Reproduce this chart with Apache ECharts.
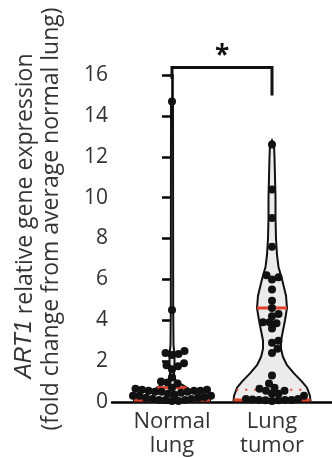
<!DOCTYPE html>
<html>
<head>
<meta charset="utf-8">
<script src="https://cdn.jsdelivr.net/npm/echarts@6/dist/echarts.min.js"></script>
<style>
html, body { margin: 0; padding: 0; background: #fff; }
#main { width: 332px; height: 458px; }
</style>
</head>
<body>
<div id="main"></div>
<script>
// categories + values
var categories = ['Normal\nlung', 'Lung\ntumor'];
var yMin = 0, yMax = 16, yStep = 2;

var normalValues = [14.7, 4.5, 2.5, 2.4, 2.35, 2.3, 1.9, 1.8, 1.75, 1.6, 1.2, 1.0, 0.95, 0.9,
    0.7, 0.65, 0.6, 0.6, 0.55, 0.55, 0.55, 0.5, 0.5, 0.5, 0.45, 0.4, 0.35, 0.3, 0.3, 0.3,
    0.25, 0.2, 0.2, 0.15, 0.15, 0.1, 0.1, 0.1, 0.05, 0.05];
var tumorValues = [12.6, 10.4, 9.0, 7.6, 6.2, 6.1, 6.0, 5.5, 4.95, 4.6, 4.3, 4.2, 3.9, 3.9, 3.85,
    3.6, 3.0, 2.9, 2.6, 2.4, 1.3, 0.9, 0.7, 0.65, 0.55, 0.55, 0.4, 0.4, 0.3,
    0.15, 0.15, 0.12, 0.1, 0.1, 0.1, 0.08, 0.08, 0.05];

// violin half width (in category units) along the value axis
var normalProfile = [[0, 0.38], [0.12, 0.38], [0.25, 0.31], [0.45, 0.21], [0.7, 0.15], [0.9, 0.08],
    [1.1, 0.03], [1.4, 0.02], [1.8, 0.025], [2.3, 0.025], [2.8, 0.015], [4.5, 0.012], [14.7, 0.01], [14.75, 0]];
var tumorProfile = [[0, 0.385], [0.3, 0.38], [0.7, 0.35], [1.0, 0.3], [1.4, 0.22], [1.8, 0.15],
    [2.2, 0.11], [2.6, 0.09], [3.0, 0.09], [3.5, 0.11], [4.0, 0.13], [4.6, 0.15], [5.2, 0.14],
    [6.0, 0.1], [6.6, 0.065], [7.2, 0.05], [8, 0.04], [9, 0.035], [10, 0.035], [11, 0.03],
    [12, 0.025], [12.6, 0.02], [12.8, 0]];

// quartile (solid) and median (dotted) lines
var quartiles = [[0.1, 0.7], [0.1, 4.6]];
var medians = [0.18, 0.6];

var profiles = [normalProfile, tumorProfile];
var groups = [normalValues, tumorValues];

var chart = echarts.init(document.getElementById('main'));
var font = 'Open Sans';

function halfWidth(prof, v) {
    for (var i = 1; i < prof.length; i++) {
        if (v <= prof[i][0]) {
            var a = prof[i - 1], b = prof[i];
            return a[1] + (b[1] - a[1]) * (v - a[0]) / (b[0] - a[0]);
        }
    }
    return 0;
}

var lineData = [];
quartiles.forEach(function (q, g) {
    q.forEach(function (v) { lineData.push([g, v, 0]); });
    lineData.push([g, medians[g], 1]);
});

chart.setOption({
    animation: false,
    grid: { left: 112, right: 0, top: 75, bottom: 56 },
    xAxis: {
        type: 'value', min: -0.6, max: 1.6,
        axisLine: { lineStyle: { color: '#000', width: 2.5 } },
        axisTick: { show: false },
        splitLine: { show: false },
        axisLabel: {
            customValues: [0, 1],
            formatter: function (v) { return categories[Math.round(v)] || ''; },
            fontFamily: font, fontSize: 22, lineHeight: 24, color: '#333', margin: 8
        }
    },
    yAxis: {
        type: 'value', min: yMin, max: yMax, interval: yStep,
        axisLine: { show: true, lineStyle: { color: '#000', width: 2.5 } },
        axisTick: { show: true, length: 10, lineStyle: { color: '#000', width: 2.5 } },
        splitLine: { show: false },
        axisLabel: { fontFamily: font, fontSize: 21, color: '#333', margin: 4 }
    },
    graphic: [
        {
            type: 'text', x: 25, y: 216, rotation: Math.PI / 2,
            style: {
                text: '{i|ART1} relative gene expression',
                fontFamily: font, fontSize: 23, fill: '#333', align: 'center', verticalAlign: 'middle',
                rich: { i: { fontFamily: 'Liberation Sans', fontStyle: 'italic', fontSize: 23, fill: '#333' } }
            }
        },
        {
            type: 'text', x: 51, y: 219, rotation: Math.PI / 2,
            style: {
                text: '(fold change from average normal lung)',
                fontFamily: font, fontSize: 23, fill: '#333', align: 'center', verticalAlign: 'middle'
            }
        }
    ],
    series: [
        {
            // violins
            type: 'custom', silent: true, z: 1,
            data: [[0], [1]],
            renderItem: function (params, api) {
                var g = api.value(0);
                var prof = profiles[g];
                var left = [], right = [];
                prof.forEach(function (p) {
                    left.push(api.coord([g - p[1], p[0]]));
                    right.unshift(api.coord([g + p[1], p[0]]));
                });
                return {
                    type: 'polygon',
                    shape: { points: left.concat(right) },
                    style: { fill: '#ebebeb', stroke: '#111', lineWidth: 2 }
                };
            }
        },
        {
            // median / quartile lines
            type: 'custom', silent: true, z: 2,
            data: lineData,
            renderItem: function (params, api) {
                var g = api.value(0), v = api.value(1), dotted = api.value(2);
                var hw = halfWidth(profiles[g], v);
                var a = api.coord([g - hw, v]), b = api.coord([g + hw, v]);
                return {
                    type: 'line',
                    shape: { x1: a[0], y1: a[1], x2: b[0], y2: b[1] },
                    style: { stroke: '#e0402c', lineWidth: dotted ? 2 : 3, lineDash: dotted ? [2, 7] : null }
                };
            }
        },
        {
            type: 'scatter', name: 'Normal lung', symbolSize: 8, z: 3, silent: true,
            itemStyle: { color: '#111', opacity: 1 }, data: []
        },
        {
            type: 'scatter', name: 'Lung tumor', symbolSize: 8, z: 3, silent: true,
            itemStyle: { color: '#111', opacity: 1 }, data: []
        },
        {
            // significance bracket
            type: 'custom', silent: true, clip: false, z: 4,
            data: [[0]],
            renderItem: function (params, api) {
                var pts = [api.coord([0, 15.8]), api.coord([0, 16.37]), api.coord([1, 16.37]), api.coord([1, 15.0])];
                var s = api.coord([0.5, 16.9]);
                return {
                    type: 'group',
                    children: [
                        { type: 'polyline', shape: { points: pts }, style: { stroke: '#111', lineWidth: 3, fill: null } },
                        {
                            type: 'text',
                            style: { text: '*', x: s[0], y: s[1], align: 'center', verticalAlign: 'middle',
                                fontFamily: font, fontWeight: 'bold', fontSize: 26, fill: '#111' }
                        }
                    ]
                };
            }
        }
    ]
});

// simple beeswarm in pixel space so dots don't pile on each other
function swarm(values, g) {
    var d = 6.5;
    var placed = [];
    var cx = chart.convertToPixel({ xAxisIndex: 0 }, g);
    var unit = chart.convertToPixel({ xAxisIndex: 0 }, g + 1) - cx;
    return values.slice().sort(function (a, b) { return a - b; }).map(function (v) {
        var py = chart.convertToPixel({ yAxisIndex: 0 }, v);
        var off = 0;
        for (var k = 0; k < 400; k++) {
            off = (k % 2 ? 1 : -1) * Math.ceil(k / 2) * 0.5;
            var ok = placed.every(function (q) {
                var dx = q[0] - off, dy = q[1] - py;
                return dx * dx + dy * dy >= d * d;
            });
            if (ok) break;
        }
        placed.push([off, py]);
        return [g + off / unit, v];
    });
}

chart.setOption({
    series: [{}, {}, { data: swarm(groups[0], 0) }, { data: swarm(groups[1], 1) }, {}]
});
</script>
</body>
</html>
